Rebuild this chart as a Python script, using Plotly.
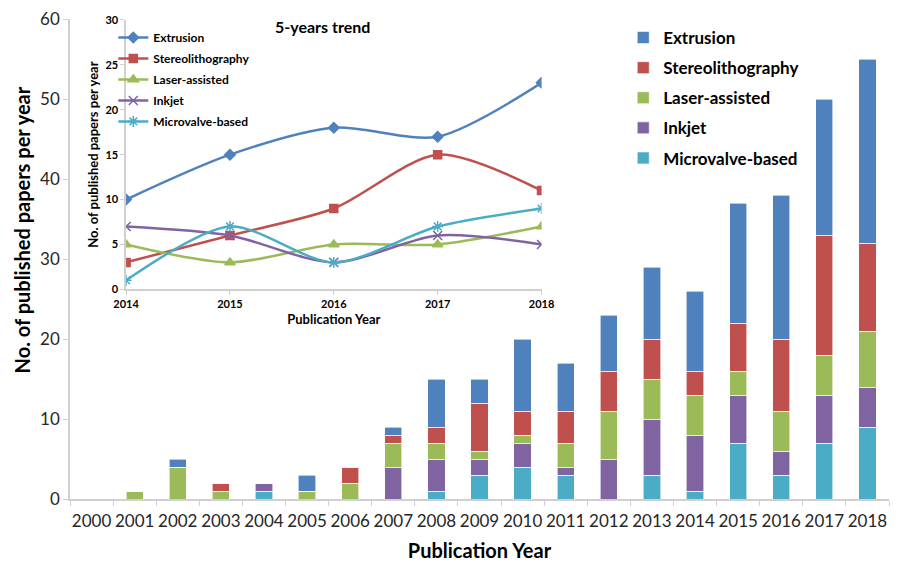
import plotly.graph_objects as go

years = [str(y) for y in range(2000, 2019)]
extrusion = [0, 0, 1, 0, 0, 2, 0, 1, 6, 3, 9, 6, 7, 9, 10, 15, 18, 17, 23]
stereo    = [0, 0, 0, 1, 0, 0, 2, 1, 2, 6, 3, 4, 5, 5, 3, 6, 9, 15, 11]
laser     = [0, 1, 4, 1, 0, 1, 2, 3, 2, 1, 1, 3, 6, 5, 5, 3, 5, 5, 7]
inkjet    = [0, 0, 0, 0, 1, 0, 0, 4, 4, 2, 3, 1, 5, 7, 7, 6, 3, 6, 5]
micro     = [0, 0, 0, 0, 1, 0, 0, 0, 1, 3, 4, 3, 0, 3, 1, 7, 3, 7, 9]

trend_years = [2014, 2015, 2016, 2017, 2018]
trend_extrusion = [10, 15, 18, 17, 23]
trend_stereo = [3, 6, 9, 15, 11]
trend_laser = [5, 3, 5, 5, 7]
trend_inkjet = [7, 6, 3, 6, 5]
trend_micro = [1, 7, 3, 7, 9]

names = ["Extrusion", "Stereolithography", "Laser-assisted", "Inkjet", "Microvalve-based"]
colors = ["#4F81BD", "#C0504D", "#9BBB59", "#8064A2", "#4BACC6"]
FONT = "Lato"
AX = "#D0D0D0"
TXT = "#262626"

# page body has an 8px margin: figure is drawn 8px right/down
W, H = 894, 555
PL, PT = 62, 8          # plot area left/top in figure px
PW, PH = 832, 483       # plot area size

fig = go.Figure()
bar_series = [micro, inkjet, laser, stereo, extrusion]
for i, (vals, nm, col) in enumerate(zip(bar_series, names[::-1], colors[::-1])):
    fig.add_trace(go.Bar(x=years, y=vals, name=nm,
                         marker=dict(color=col, line=dict(color="white", width=0.6)),
                         legend="legend", legendgroup="b" + nm, legendrank=5 - i))

trend_series = [trend_extrusion, trend_stereo, trend_laser, trend_inkjet, trend_micro]
symbols = ["diamond", "square", "triangle-up", "x-thin-open", "asterisk-open"]
sizes = [8, 8, 9, 9, 9]
for i, (vals, nm, col, sym, sz) in enumerate(zip(trend_series, names, colors, symbols, sizes)):
    fig.add_trace(go.Scatter(x=trend_years, y=vals, name=nm, mode="lines+markers",
                             line=dict(color=col, width=2.5, shape="spline", smoothing=0.8),
                             marker=dict(symbol=sym, size=sz, color=col, line=dict(color=col, width=1.5)),
                             xaxis="x2", yaxis="y2", legend="legend2", legendgroup="t" + nm,
                             legendrank=i + 1))

def px_x(x):  # screen px -> paper fraction
    return (x - 8 - PL) / PW

def px_y(y):
    return (PT + PH - (y - 8)) / PH

fig.update_layout(
    width=W, height=H,
    margin=dict(l=PL, r=W - PL - PW, t=PT, b=H - PT - PH),
    paper_bgcolor="white", plot_bgcolor="white",
    barmode="stack", bargap=0.6,
    font=dict(family=FONT, color=TXT),
    xaxis=dict(type="category", showgrid=False, showline=True, linecolor=AX, linewidth=1.5,
               ticks="outside", tickson="boundaries", ticklen=5, tickcolor=AX, tickangle=0,
               ticklabelstandoff=6,
               tickfont=dict(size=17, family=FONT, color=TXT),
               title=dict(text="<b>Publication Year</b>", font=dict(size=20, family=FONT, color="#000"), standoff=14)),
    yaxis=dict(range=[0, 60], dtick=10, showgrid=False, showline=True, linecolor=AX, linewidth=1.5,
               ticks="outside", ticklen=5, tickcolor=AX, zeroline=False, ticklabeloverflow="allow",
               tickfont=dict(size=17, family=FONT, color=TXT)),
    xaxis2=dict(domain=[px_x(127), px_x(549)], anchor="y2", range=[2014, 2018], tickvals=trend_years,
                showgrid=False, showline=True, linecolor=AX, linewidth=1.5, ticks="outside", ticklen=4, tickcolor=AX,
                tickfont=dict(size=11, family=FONT, color="#000", weight="bold"),
                title=dict(text="<b>Publication Year</b>", font=dict(size=13, family=FONT, color="#000"), standoff=6)),
    yaxis2=dict(domain=[px_y(288), px_y(17)], anchor="x2", range=[0, 30], dtick=5, showgrid=False, zeroline=False,
                showline=True, linecolor=AX, linewidth=1.5, ticks="outside", ticklen=4, tickcolor=AX,
                tickfont=dict(size=11, family=FONT, color="#000", weight="bold"),
                title=dict(text="<b>No. of published papers per year</b>", font=dict(size=13, family=FONT, color="#000"), standoff=4)),
    legend=dict(x=px_x(632), y=px_y(17), xanchor="left", yanchor="top", traceorder="grouped", tracegroupgap=5,
                itemwidth=30,
                font=dict(size=17, family=FONT, color="#000", weight="bold"), bgcolor="rgba(0,0,0,0)"),
    legend2=dict(x=px_x(114), y=px_y(20), xanchor="left", yanchor="top", traceorder="grouped", tracegroupgap=2,
                 font=dict(size=12, family=FONT, color="#000", weight="bold"), bgcolor="rgba(0,0,0,0)",
                 itemwidth=30),
    annotations=[
        dict(text="<b>5-years trend</b>", x=px_x(326), y=px_y(24), xref="paper", yref="paper",
             xanchor="center", yanchor="middle", showarrow=False,
             font=dict(size=16, family=FONT, color="#000")),
        dict(text="<b>No. of published papers per year</b>", x=px_x(21), y=px_y(228), xref="paper", yref="paper",
             xanchor="center", yanchor="middle", showarrow=False, textangle=-90, borderpad=0,
             font=dict(size=20, family=FONT, color="#000")),
    ],
)

fig.write_html("out.html")
